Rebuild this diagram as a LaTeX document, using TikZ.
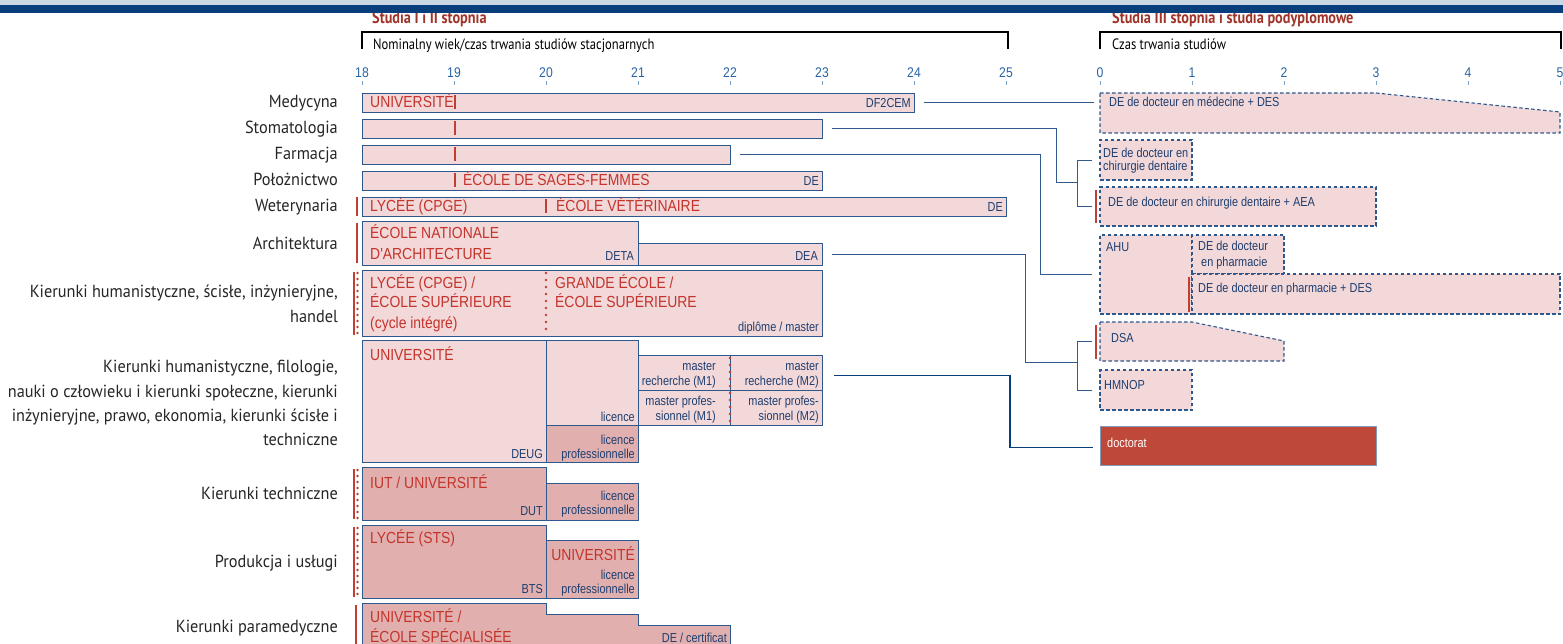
\documentclass[tikz,border=0pt]{standalone}
\usepackage{fontspec}
\setmainfont{Liberation Sans}
\newfontfamily\bxfont{Liberation Sans}[FakeStretch=0.87]
\newfontfamily\smfont{Liberation Sans}[FakeStretch=0.84]
\newfontfamily\lbfont{PT Sans}[FakeStretch=0.93]
\newfontfamily\hdfont{PT Sans}[FakeStretch=0.84]
\usetikzlibrary{calc}
\definecolor{pinkL}{RGB}{242,216,216}
\definecolor{pinkD}{RGB}{225,176,174}
\definecolor{boxblue}{RGB}{46,88,140}
\definecolor{redT}{RGB}{196,52,44}
\definecolor{redbar}{RGB}{192,62,52}
\definecolor{blueT}{RGB}{30,62,112}
\definecolor{axblue}{RGB}{40,100,165}
\definecolor{bandL}{RGB}{203,215,228}
\definecolor{bandD}{RGB}{8,62,124}
\definecolor{titred}{RGB}{160,52,40}
\definecolor{doctred}{RGB}{190,72,58}
\definecolor{connc}{RGB}{50,90,140}
\tikzset{
  box/.style={draw=boxblue, fill=pinkL, line width=0.9pt, inner sep=0pt, outer sep=0pt, anchor=north west},
  boxD/.style={box, fill=pinkD},
  dbox/.style={box, line width=1.1pt, dash pattern=on 3.5pt off 2.5pt},
  dpath/.style={fill=pinkL, draw=boxblue, line width=1.1pt, dash pattern=on 3.5pt off 2.5pt},
  shp/.style={inner sep=0pt, outer sep=0pt, anchor=north west},
  bigred/.style={text=redT, font=\bxfont\fontsize{16}{18}\selectfont, inner sep=0pt, anchor=base west},
  bigredr/.style={bigred, anchor=base east},
  smb/.style={text=blueT, font=\smfont\fontsize{13}{14}\selectfont, inner sep=0pt, anchor=base east},
  smbl/.style={smb, anchor=base west},
  lab/.style={font=\lbfont\fontsize{17.5}{24}\selectfont, text=black!85, inner sep=0pt, anchor=base east},
  axn/.style={text=axblue, font=\bxfont\fontsize{14}{15}\selectfont, inner sep=0pt, anchor=base},
  rbar/.style={draw=redbar, line width=2.6pt},
  mbar/.style={draw=redbar, line width=2.4pt},
  rdots/.style={draw=redbar, line width=2.8pt, line cap=round, dash pattern=on 0pt off 6pt},
  conn/.style={draw=connc, line width=0.9pt},
  brk/.style={draw=black, line width=1.4pt},
}
\begin{document}
\begin{tikzpicture}[x=1pt,y=-1pt]
\useasboundingbox (0,0) rectangle (1563,644);
\fill[white] (0,0) rectangle (1563,644);
% titles
\node[text=titred, font=\hdfont\bfseries\fontsize{17}{19}\selectfont, inner sep=0pt, anchor=base west] (tit1) at (372,24) {Studia I i II stopnia};
\node[text=titred, font=\hdfont\bfseries\fontsize{17}{19}\selectfont, inner sep=0pt, anchor=base west] (tit2) at (1112,24) {Studia III stopnia i studia podyplomowe};
% bands
\fill[bandL] (0,0) rectangle (1563,5);
\fill[bandD] (0,5) rectangle (1563,13);
% brackets
\draw[brk] (362,49) -- (362,32) -- (1008,32) -- (1008,49);
\draw[brk] (1100,49) -- (1100,32) -- (1561,32) -- (1561,49);
\node[font=\hdfont\fontsize{15}{17}\selectfont, inner sep=0pt, anchor=base west] (sub1) at (373,50) {Nominalny wiek/czas trwania studiów stacjonarnych};
\node[font=\hdfont\fontsize{15}{17}\selectfont, inner sep=0pt, anchor=base west] (sub2) at (1112,50) {Czas trwania studiów};
% axes
\foreach \a [count=\i from 0] in {18,...,25}{
  \node[axn] (ax\a) at (362+92*\i,78) {\a};
  \draw[axblue!60, line width=0.8pt] (362+92*\i,81) -- (362+92*\i,85);
}
\foreach \a in {0,...,5}{
  \node[axn] (ay\a) at (1100+92*\a,78) {\a};
  \draw[axblue!60, line width=0.8pt] (1100+92*\a,81) -- (1100+92*\a,85);
}
% left labels
\node[lab] (l1) at (338,108) {Medycyna};
\node[lab] (l2) at (338,134) {Stomatologia};
\node[lab] (l3) at (338,160) {Farmacja};
\node[lab] (l4) at (338,186) {Położnictwo};
\node[lab] (l5) at (338,212) {Weterynaria};
\node[lab] (l6) at (338,250) {Architektura};
\node[lab] (l7a) at (338,298) {Kierunki humanistyczne, ścisłe, inżynieryjne,};
\node[lab] (l7b) at (338,322) {handel};
\node[lab] (l8a) at (338,372) {Kierunki humanistyczne, filologie,};
\node[lab] (l8b) at (338,397) {nauki o człowieku i kierunki społeczne, kierunki};
\node[lab] (l8c) at (338,421) {inżynieryjne, prawo, ekonomia, kierunki ścisłe i};
\node[lab] (l8d) at (338,445) {techniczne};
\node[lab] (l9) at (338,499) {Kierunki techniczne};
\node[lab] (l10) at (338,567) {Produkcja i usługi};
\node[lab] (l11) at (338,632) {Kierunki paramedyczne};
% ---------- left boxes
\node[box, minimum width=552pt, minimum height=19pt] (med) at (362,93) {};
\node[box, minimum width=460pt, minimum height=19pt] (stom) at (362,119) {};
\node[box, minimum width=368pt, minimum height=19pt] (farm) at (362,145) {};
\node[box, minimum width=460pt, minimum height=19pt] (pol) at (362,171) {};
\node[box, minimum width=644pt, minimum height=19pt] (wet) at (362,197) {};
\node[box, minimum width=276pt, minimum height=44pt] (arch1) at (362,221) {};
\node[box, minimum width=184pt, minimum height=22pt] (arch2) at (638,243) {};
\node[box, minimum width=460pt, minimum height=66pt] (cpge) at (362,270) {};
\node[box, minimum width=184pt, minimum height=122pt] (univ) at (362,340) {};
\node[box, minimum width=92pt, minimum height=85pt] (lic) at (546,340) {};
\node[boxD, minimum width=92pt, minimum height=37pt] (licp) at (546,425) {};
\node[box, minimum width=92pt, minimum height=35pt] (m1r) at (638,355) {};
\node[box, minimum width=92pt, minimum height=35pt] (m2r) at (730,355) {};
\node[box, minimum width=92pt, minimum height=35pt] (m1p) at (638,390) {};
\node[box, minimum width=92pt, minimum height=35pt] (m2p) at (730,390) {};
\node[boxD, minimum width=184pt, minimum height=53pt] (iut) at (362,467) {};
\node[boxD, minimum width=92pt, minimum height=37pt] (iutl) at (546,483) {};
\node[boxD, minimum width=184pt, minimum height=73pt] (sts) at (362,525) {};
\node[boxD, minimum width=92pt, minimum height=58pt] (stsl) at (546,540) {};
\node[shp, minimum width=368pt, minimum height=50pt] (para) at (362,603) {};
\filldraw[fill=pinkD, draw=boxblue, line width=0.9pt] (para.north west) -- ++(184,0) -- ++(0,11) -- ++(92,0) -- ++(0,11) -- ++(92,0) -- (para.south east) -- (para.south west) -- cycle;
% red inner bars
\foreach \n in {med,stom,farm,pol}{ \draw[rbar] ($(\n.north west)+(93,2.5)$) -- ($(\n.south west)+(93,-2.5)$); }
\draw[rbar] ($(wet.north west)+(184,2.5)$) -- ($(wet.south west)+(184,-2.5)$);
\draw[rbar] ($(wet.north west)+(-5,0)$) -- ($(wet.south west)+(-5,0)$);
\draw[rbar] ($(arch1.north west)+(-5,2)$) -- ($(arch1.south west)+(-5,-2)$);
\draw[mbar] ($(cpge.north west)+(-8,2)$) -- ($(cpge.south west)+(-8,-1)$);
\draw[rdots] ($(cpge.north west)+(-4.5,3)$) -- ($(cpge.south west)+(-4.5,0)$);
\draw[mbar] ($(iut.north west)+(-8,2)$) -- ($(iut.south west)+(-8,-1)$);
\draw[rdots] ($(iut.north west)+(-4.5,3)$) -- ($(iut.south west)+(-4.5,0)$);
\draw[mbar] ($(sts.north west)+(-8,2)$) -- ($(sts.south west)+(-8,-1)$);
\draw[rdots] ($(sts.north west)+(-4.5,3)$) -- ($(sts.south west)+(-4.5,0)$);
\draw[rbar] ($(para.north west)+(-6,2)$) -- ($(para.south west)+(-6,0)$);
\draw[rdots, dash pattern=on 0pt off 7pt] ($(cpge.north west)+(184,3)$) -- ($(cpge.south west)+(184,-2)$);
\draw[rdots, dash pattern=on 0pt off 7pt] ($(m1r.north east)+(0,3)$) -- ($(m1p.south east)+(0,-2)$);
% texts in left boxes
\node[bigred] (tmed) at (370,107.5) {UNIVERSITÉ};
\node[smb] (tmed2) at (911,108) {DF2CEM};
\node[bigred] (tpol) at (463,185.5) {ÉCOLE DE SAGES-FEMMES};
\node[smb] (tpol2) at (819,186) {DE};
\node[bigred] (twet1) at (370,211.5) {LYCÉE (CPGE)};
\node[bigred] (twet2) at (556,211.5) {ÉCOLE VÉTÉRINAIRE};
\node[smb] (twet3) at (1003,212) {DE};
\node[bigred] (tar1) at (370,239) {ÉCOLE NATIONALE};
\node[bigred] (tar2) at (370,260) {D'ARCHITECTURE};
\node[smb] (tar3) at (634,261) {DETA};
\node[smb] (tar4) at (818,261) {DEA};
\node[bigred] (tcp1) at (370,288) {LYCÉE (CPGE) /};
\node[bigred] (tcp2) at (370,308) {ÉCOLE SUPÉRIEURE};
\node[bigred] (tcp3) at (370,328) {(cycle intégré)};
\node[bigred] (tcp4) at (555,288) {GRANDE ÉCOLE /};
\node[bigred] (tcp5) at (555,308) {ÉCOLE SUPÉRIEURE};
\node[smb] (tcp6) at (819,331) {diplôme / master};
\node[bigred] (tun1) at (370,360) {UNIVERSITÉ};
\node[smb] (tun2) at (543,458) {DEUG};
\node[smb] (tun3) at (635,421) {licence};
\node[smb] (tun4) at (635,444) {licence};
\node[smb] (tun5) at (635,458) {professionnelle};
\node[smb] (tm1) at (716,370) {master};
\node[smb] (tm2) at (716,385) {recherche (M1)};
\node[smb] (tm3) at (716,405) {master profes-};
\node[smb] (tm4) at (716,420) {sionnel (M1)};
\node[smb] (tm5) at (819,370) {master};
\node[smb] (tm6) at (819,385) {recherche (M2)};
\node[smb] (tm7) at (819,405) {master profes-};
\node[smb] (tm8) at (819,420) {sionnel (M2)};
\node[bigred] (tiu1) at (370,488) {IUT / UNIVERSITÉ};
\node[smb] (tiu2) at (543,515) {DUT};
\node[smb] (tiu3) at (635,500) {licence};
\node[smb] (tiu4) at (635,514) {professionnelle};
\node[bigred] (tst1) at (370,543) {LYCÉE (STS)};
\node[smb] (tst2) at (543,593) {BTS};
\node[bigredr] (tst3) at (635,560) {UNIVERSITÉ};
\node[smb] (tst4) at (635,579) {licence};
\node[smb] (tst5) at (635,593) {professionnelle};
\node[bigred] (tpa1) at (370,622) {UNIVERSITÉ /};
\node[bigred] (tpa2) at (370,642) {ÉCOLE SPÉCIALISÉE};
\node[smb] (tpa3) at (727,642) {DE / certificat};
% ---------- right boxes
\node[shp, minimum width=460pt, minimum height=40pt] (des) at (1100,93) {};
\filldraw[dpath] (des.north west) -- ($(des.north west)+(276,0)$) -- ($(des.north east)+(0,19)$) -- (des.south east) -- (des.south west) -- cycle;
\node[dbox, minimum width=92pt, minimum height=40pt] (chir) at (1100,140) {};
\node[dbox, minimum width=276pt, minimum height=39pt] (aea) at (1100,187) {};
\node[dbox, minimum width=92pt, minimum height=79pt] (ahu) at (1100,235) {};
\node[dbox, minimum width=92pt, minimum height=39pt] (phd) at (1192,235) {};
\node[dbox, minimum width=368pt, minimum height=40pt] (phdes) at (1192,274) {};
\node[shp, minimum width=184pt, minimum height=39pt] (dsa) at (1100,322) {};
\filldraw[dpath] (dsa.north west) -- ($(dsa.north west)+(92,0)$) -- ($(dsa.north east)+(0,19)$) -- (dsa.south east) -- (dsa.south west) -- cycle;
\node[dbox, minimum width=92pt, minimum height=40pt] (hmnop) at (1100,370) {};
\node[box, fill=doctred, draw=boxblue!60, minimum width=276pt, minimum height=39pt] (doct) at (1100,426) {};
\draw[rbar] ($(aea.north west)+(-4,3)$) -- ($(aea.south west)+(-4,-3)$);
\draw[rbar] ($(phdes.north west)+(-3,3)$) -- ($(phdes.south west)+(-3,-2)$);
\draw[rbar] ($(dsa.north west)+(-4,3)$) -- ($(dsa.south west)+(-4,-2)$);
% right texts
\node[smbl] (r1) at (1109,107) {DE de docteur en médecine + DES};
\node[smbl] (r2) at (1103,158) {DE de docteur en};
\node[smbl] (r3) at (1103,171) {chirurgie dentaire};
\node[smbl] (r4) at (1108,207) {DE de docteur en chirurgie dentaire + AEA};
\node[smbl] (r5) at (1106,252) {AHU};
\node[smbl] (r6) at (1198,251) {DE de docteur};
\node[smbl] (r7) at (1201,267) {en pharmacie};
\node[smbl] (r8) at (1198,292) {DE de docteur en pharmacie + DES};
\node[smbl] (r9) at (1111,342) {DSA};
\node[smbl] (r10) at (1104,389) {HMNOP};
\node[smbl, text=white] (r11) at (1107,447) {doctorat};
% ---------- connectors
\coordinate (jS) at ($(chir.west)+(-44,22)$);
\coordinate (bS) at ($(chir.west)+(-23,22)$);
\draw[conn] ($(med.east)+(10,0)$) -- ($(des.west |- med.east)+(-6,0)$);
\draw[conn] ($(stom.east)+(10,0)$) -| (jS) -- (bS);
\draw[conn] ($(chir.west)+(-8,0)$) -| (bS) |- ($(aea.west)+(-8,0)$);
\draw[conn] ($(farm.east)+(10,0)$) -| ($(ahu.west)+(-60,0)$) -- ($(ahu.west)+(-8,0)$);
\coordinate (jA) at ($(dsa.west)+(-75,21)$);
\coordinate (bA) at ($(dsa.west)+(-23,21)$);
\draw[conn] ($(arch2.east)+(10,0)$) -| (jA) -- (bA);
\draw[conn] ($(dsa.west)+(-8,0)$) -| (bA) |- ($(hmnop.west)+(-8,0)$);
\draw[draw=bandD, line width=1.6pt] ($(m2r.east)+(12,3)$) -| ($(doct.west)+(-90,2)$) -- ($(doct.west)+(-7,2)$);
\end{tikzpicture}
\end{document}
